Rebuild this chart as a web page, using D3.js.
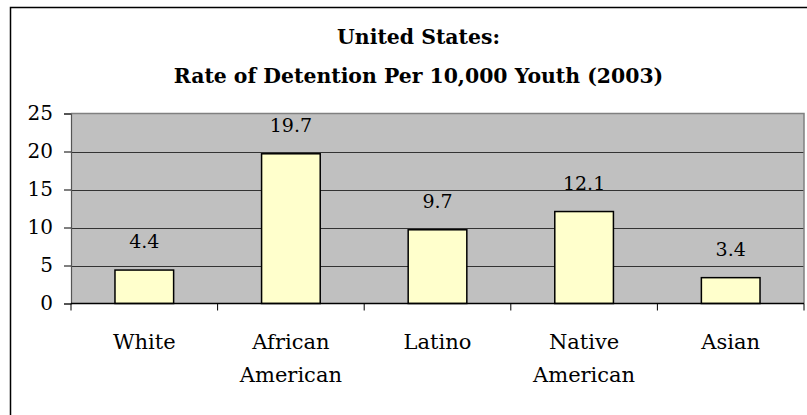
<!DOCTYPE html>
<html>
<head>
<meta charset="utf-8">
<script src="https://cdn.jsdelivr.net/npm/d3@7"></script>
<style>
  html, body { margin: 0; padding: 0; background: #ffffff; }
  svg { display: block; }
  text { font-family: "Palatino Linotype", "Book Antiqua", Palatino, "DejaVu Serif", serif; fill: #000; }
</style>
</head>
<body>
<svg id="chart" width="807" height="415"></svg>
<script>
const titleLines = ["United States:", "Rate of Detention Per 10,000 Youth (2003)"];
const categories = [["White"], ["African", "American"], ["Latino"], ["Native", "American"], ["Asian"]];
const categoryKeys = ["White", "African American", "Latino", "Native American", "Asian"];
const values = [4.4, 19.7, 9.7, 12.1, 3.4];
const valueLabels = ["4.4", "19.7", "9.7", "12.1", "3.4"];
const yTicks = [0, 5, 10, 15, 20, 25];

const svg = d3.select("#chart");

// outer chart frame (extends beyond right/bottom edges)
svg.append("rect")
  .attr("x", 10.5).attr("y", 7.5)
  .attr("width", 830).attr("height", 430)
  .attr("fill", "#ffffff").attr("stroke", "#000").attr("stroke-width", 1.5);

const plot = { left: 71, right: 804, top: 113.5, bottom: 303.5 };

const x = d3.scaleBand()
  .domain(categoryKeys)
  .range([plot.left, plot.right])
  .paddingInner(0.6)
  .paddingOuter(0.3);

const y = d3.scaleLinear().domain([0, 25]).range([plot.bottom, plot.top]);

// plot background
svg.append("rect")
  .attr("x", plot.left).attr("y", plot.top)
  .attr("width", plot.right - plot.left).attr("height", plot.bottom - plot.top)
  .attr("fill", "#c0c0c0");

// gridlines
svg.append("g").selectAll("line")
  .data(yTicks.filter(t => t > 0 && t < 25))
  .join("line")
  .attr("x1", plot.left).attr("x2", plot.right)
  .attr("y1", d => Math.round(y(d)) + 0.5).attr("y2", d => Math.round(y(d)) + 0.5)
  .attr("stroke", "#333").attr("stroke-width", 1);

// plot border top/right in gray
svg.append("path")
  .attr("d", `M${plot.left},${plot.top}H${plot.right}V${plot.bottom}`)
  .attr("fill", "none").attr("stroke", "#808080").attr("stroke-width", 1.5);

// bars
svg.append("g").selectAll("rect")
  .data(values)
  .join("rect")
  .attr("x", (d, i) => x(categoryKeys[i]))
  .attr("y", d => y(d))
  .attr("width", x.bandwidth())
  .attr("height", d => y(0) - y(d))
  .attr("fill", "#ffffcc").attr("stroke", "#000").attr("stroke-width", 1.5);

// value labels
svg.append("g").selectAll("text")
  .data(values)
  .join("text")
  .attr("x", (d, i) => x(categoryKeys[i]) + x.bandwidth() / 2)
  .attr("y", d => y(d) - 22)
  .attr("text-anchor", "middle")
  .style("font-size", "19px")
  .text((d, i) => valueLabels[i]);

// y axis
const yAxis = svg.append("g")
  .attr("transform", `translate(${plot.left},0)`)
  .call(d3.axisLeft(y).tickValues(yTicks).tickSize(7).tickPadding(11).tickFormat(d3.format("d")));
yAxis.select(".domain").attr("stroke", "#555").attr("stroke-width", 1.2);
yAxis.selectAll(".tick line").attr("stroke", "#000");
yAxis.selectAll(".tick text")
  .style("font-size", "20px")
  .style("font-family", "\"Palatino Linotype\", \"Book Antiqua\", Palatino, \"DejaVu Serif\", serif")
  .attr("fill", "#000");

// x axis line and tick marks at category boundaries
const step = x.step();
const boundaries = d3.range(categoryKeys.length + 1).map(i => plot.left + i * step);
svg.append("line")
  .attr("x1", plot.left).attr("x2", plot.right)
  .attr("y1", plot.bottom).attr("y2", plot.bottom)
  .attr("stroke", "#000").attr("stroke-width", 1.5);
svg.append("g").selectAll("line")
  .data(boundaries)
  .join("line")
  .attr("x1", d => d).attr("x2", d => d)
  .attr("y1", plot.bottom).attr("y2", plot.bottom + 7)
  .attr("stroke", "#000").attr("stroke-width", 1);

// category labels
svg.append("g").selectAll("text")
  .data(categories)
  .join("text")
  .attr("text-anchor", "middle")
  .style("font-size", "21px")
  .each(function(lines, i) {
    const cx = x(categoryKeys[i]) + x.bandwidth() / 2;
    d3.select(this).selectAll("tspan")
      .data(lines)
      .join("tspan")
      .attr("x", cx)
      .attr("y", (l, j) => 349 + j * 33)
      .text(l => l);
  });

// title
svg.append("g").selectAll("text")
  .data(titleLines)
  .join("text")
  .attr("x", 418.5)
  .attr("y", (d, i) => 44 + i * 39)
  .attr("text-anchor", "middle")
  .style("font-size", "20.4px")
  .style("font-weight", "bold")
  .text(d => d);
</script>
</body>
</html>
